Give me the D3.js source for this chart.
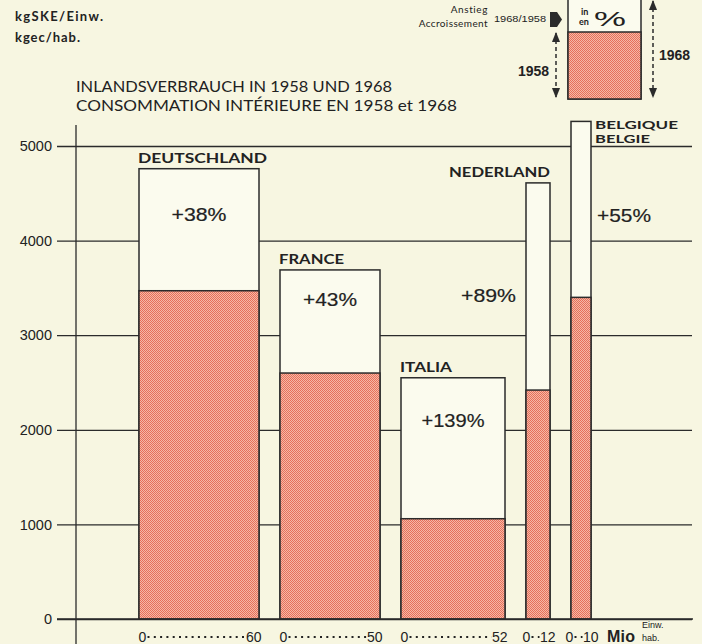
<!DOCTYPE html>
<html lang="de">
<head>
<meta charset="UTF-8" />
<title>Inlandsverbrauch 1958 / 1968</title>
<script src="https://d3js.org/d3.v7.min.js"></script>
<style>
  body { margin: 0; background: #f7f6e1; }
  svg { display: block; }
  .lbl { font-family: Lato, "DejaVu Sans", sans-serif; font-weight: bold; fill: #222; }
  .num { font-family: "Liberation Sans", Arial, sans-serif; fill: #222; }
</style>
</head>
<body>
<svg id="chart" width="702" height="644"></svg>
<script>
  // Mio Einwohner, kgSKE je Einwohner
  let countries = ["DEUTSCHLAND", "FRANCE", "ITALIA", "NEDERLAND", "BELGIQUE"];
  let population = [60, 50, 52, 12, 10];
  let cons1958 = [3470, 2600, 1060, 2420, 3400];
  let cons1968 = [4760, 3690, 2550, 4610, 5260];
  let growth = ["+38%", "+43%", "+139%", "+89%", "+55%"];
  let popLabels = ["60", "50", "52", "12", "10"];
  let yTicks = [0, 1000, 2000, 3000, 4000, 5000];

  let ink = "#2b2b2b";
  let gap = 10.5; // Mio between bars

  let svg = d3.select("#chart");
  let defs = svg.append("defs");
  let pat = defs.append("pattern")
    .attr("id", "dots").attr("width", 2).attr("height", 2)
    .attr("patternUnits", "userSpaceOnUse");
  pat.append("rect").attr("width", 2).attr("height", 2).attr("fill", "#f5b8a6");
  pat.append("rect").attr("width", 1).attr("height", 1).attr("fill", "#e6705a");
  pat.append("rect").attr("x", 1).attr("y", 1).attr("width", 1).attr("height", 1).attr("fill", "#e6705a");

  let y = d3.scaleLinear().domain([0, 5000]).range([619, 146]);
  let x = d3.scaleLinear().domain([0, 60]).range([139, 259]);

  // cumulative start of each bar in "Mio" units
  let starts = [];
  let acc = 0;
  population.forEach(function(p) { starts.push(acc); acc += p + gap; });

  let rows = countries.map(function(c, i) {
    return { name: c, pop: population[i], a: cons1958[i], b: cons1968[i],
             g: growth[i], lab: popLabels[i], x0: starts[i], x1: starts[i] + population[i] };
  });

  // grid + ticks
  let axis = svg.append("g")
    .attr("transform", "translate(57,0)")
    .call(d3.axisLeft(y).tickValues(yTicks).tickSize(-(692 - 57)).tickPadding(5)
      .tickFormat(d3.format("d")));
  axis.select(".domain").remove();
  axis.selectAll("line").attr("stroke", ink).attr("stroke-width", 1.3);
  axis.selectAll("text").attr("class", "num").attr("font-size", 14.5)
    .style("font-family", "'Liberation Sans', Arial, sans-serif").attr("fill", "#222");

  // vertical axis line
  svg.append("line").attr("x1", 76).attr("x2", 76).attr("y1", 125).attr("y2", 644)
    .attr("stroke", ink).attr("stroke-width", 1.3);

  // bars: 1968 total (light) and 1958 (red)
  let bar = svg.selectAll("g.bar").data(rows).enter().append("g").attr("class", "bar");
  bar.append("rect")
    .attr("x", d => x(d.x0)).attr("width", d => x(d.x1) - x(d.x0))
    .attr("y", d => y(d.b)).attr("height", d => y(0) - y(d.b))
    .attr("fill", "#fbfbee").attr("stroke", ink).attr("stroke-width", 1.5);
  bar.append("rect")
    .attr("x", d => x(d.x0)).attr("width", d => x(d.x1) - x(d.x0))
    .attr("y", d => y(d.a)).attr("height", d => y(0) - y(d.a))
    .attr("fill", "url(#dots)").attr("stroke", ink).attr("stroke-width", 1.5);

  // bottom axis line over bars
  svg.append("line").attr("x1", 57).attr("x2", 693).attr("y1", y(0)).attr("y2", y(0))
    .attr("stroke", ink).attr("stroke-width", 1.4);

  // country names
  let nameLen = { DEUTSCHLAND: 129, FRANCE: 65, ITALIA: 52, NEDERLAND: 101, BELGIQUE: 83 };
  bar.filter((d, i) => i < 3).append("text").attr("class", "lbl")
    .attr("x", d => x(d.x0) - 1).attr("y", d => y(d.b) - 6)
    .attr("font-size", 13).attr("textLength", d => nameLen[d.name]).attr("lengthAdjust", "spacingAndGlyphs")
    .text(d => d.name);
  bar.filter((d, i) => i === 3).append("text").attr("class", "lbl")
    .attr("x", d => x(d.x1) - 101).attr("y", d => y(d.b) - 6)
    .attr("font-size", 13).attr("textLength", 101).attr("lengthAdjust", "spacingAndGlyphs")
    .text(d => d.name);
  let be = bar.filter((d, i) => i === 4);
  be.append("text").attr("class", "lbl")
    .attr("x", d => x(d.x1) + 4).attr("y", d => y(d.b) + 8)
    .attr("font-size", 11).attr("textLength", 83).attr("lengthAdjust", "spacingAndGlyphs")
    .text("BELGIQUE");
  be.append("text").attr("class", "lbl")
    .attr("x", d => x(d.x1) + 4).attr("y", d => y(d.b) + 21.5)
    .attr("font-size", 11).attr("textLength", 55).attr("lengthAdjust", "spacingAndGlyphs")
    .text("BELGIE");

  // growth labels
  let gLen = [55, 54, 63, 55, 54];
  let gDy = [52, 36, 49, 0, 0];
  function growthText(sel) {
    return sel.attr("class", "num").attr("font-size", 19)
      .attr("stroke", "#222").attr("stroke-width", 0.2)
      .attr("lengthAdjust", "spacingAndGlyphs");
  }
  growthText(bar.filter((d, i) => i < 3).append("text"))
    .attr("x", (d, i) => (x(d.x0) + x(d.x1)) / 2 - gLen[i] / 2)
    .attr("y", (d, i) => y(d.b) + gDy[i])
    .attr("textLength", (d, i) => gLen[i])
    .text(d => d.g);
  growthText(bar.filter((d, i) => i === 3).append("text"))
    .attr("x", d => x(d.x0) - 65).attr("y", d => y(d.b) + 119)
    .attr("textLength", 55)
    .text(d => d.g);
  growthText(bar.filter((d, i) => i === 4).append("text"))
    .attr("x", d => x(d.x1) + 6).attr("y", d => y(d.b) + 101)
    .attr("textLength", 54)
    .text(d => d.g);

  // population scale under each bar: 0 ..... n
  let pl = svg.selectAll("g.pop").data(rows).enter().append("g").attr("class", "pop");
  function span(d) {
    let a = x(d.x0), b = x(d.x1);
    let half = Math.max((b - a) / 2 + 1.5, 16.5);
    let mid = (a + b) / 2 + 1;
    return [mid - half, mid + half];
  }
  pl.append("text").attr("class", "num").attr("font-size", 14)
    .attr("x", d => span(d)[0]).attr("y", 642).text("0");
  pl.append("text").attr("class", "num").attr("font-size", 14).attr("text-anchor", "end")
    .attr("x", d => span(d)[1]).attr("y", 642).text(d => d.lab);
  pl.append("line")
    .attr("x1", d => span(d)[0] + 9).attr("x2", d => span(d)[1] - 16)
    .attr("y1", 637).attr("y2", 637)
    .attr("stroke", "#222").attr("stroke-width", 2).attr("stroke-dasharray", "2,4.3");
  svg.append("text").attr("class", "num").attr("font-size", 16).attr("font-weight", "bold")
    .attr("x", 607).attr("y", 642).attr("textLength", 28).text("Mio");
  svg.append("text").attr("class", "num").attr("font-size", 9).attr("x", 642).attr("y", 628).text("Einw.");
  svg.append("text").attr("class", "num").attr("font-size", 9).attr("x", 642).attr("y", 641).text("hab.");

  // unit + titles
  svg.append("text").attr("class", "lbl").attr("font-size", 13).attr("x", 15).attr("y", 21)
    .attr("textLength", 88).text("kgSKE/Einw.");
  svg.append("text").attr("class", "lbl").attr("font-size", 13).attr("x", 15).attr("y", 42)
    .attr("textLength", 65).text("kgec/hab.");
  svg.append("text").attr("class", "lbl").style("font-weight", "normal").attr("font-size", 14.5)
    .attr("x", 76).attr("y", 92).attr("textLength", 316).attr("lengthAdjust", "spacingAndGlyphs")
    .text("INLANDSVERBRAUCH IN 1958 UND 1968");
  svg.append("text").attr("class", "lbl").style("font-weight", "normal").attr("font-size", 14.5)
    .attr("x", 76).attr("y", 111).attr("textLength", 381).attr("lengthAdjust", "spacingAndGlyphs")
    .text("CONSOMMATION INTÉRIEURE EN 1958 et 1968");

  // legend (key bar)
  let lg = svg.append("g");
  lg.append("rect").attr("x", 568).attr("y", -5).attr("width", 73).attr("height", 104)
    .attr("fill", "#fbfbee").attr("stroke", ink).attr("stroke-width", 1.5);
  lg.append("rect").attr("x", 568).attr("y", 32).attr("width", 73).attr("height", 67)
    .attr("fill", "url(#dots)").attr("stroke", ink).attr("stroke-width", 1.5);
  lg.append("text").attr("class", "lbl").attr("font-size", 9).attr("x", 581).attr("y", 15).text("in");
  lg.append("text").attr("class", "lbl").attr("font-size", 9).attr("x", 579).attr("y", 25).text("en");
  lg.append("text").attr("class", "num").attr("font-size", 21).attr("x", 594).attr("y", 26)
    .attr("textLength", 32).attr("lengthAdjust", "spacingAndGlyphs").text("%");

  defs.append("marker").attr("id", "ah").attr("viewBox", "0 0 10 10").attr("refX", 9).attr("refY", 5)
    .attr("markerWidth", 7).attr("markerHeight", 7).attr("orient", "auto-start-reverse")
    .append("path").attr("d", "M0,1 L10,5 L0,9 z").attr("fill", ink);
  lg.append("line").attr("x1", 556).attr("x2", 556).attr("y1", 33).attr("y2", 97)
    .attr("stroke", ink).attr("stroke-width", 1.5).attr("stroke-dasharray", "4,3")
    .attr("marker-start", "url(#ah)").attr("marker-end", "url(#ah)");
  lg.append("line").attr("x1", 653).attr("x2", 653).attr("y1", 1).attr("y2", 97)
    .attr("stroke", ink).attr("stroke-width", 1.5).attr("stroke-dasharray", "4,3")
    .attr("marker-start", "url(#ah)").attr("marker-end", "url(#ah)");
  lg.append("text").attr("class", "num").attr("font-weight", "bold").attr("font-size", 14)
    .attr("x", 518).attr("y", 76).text("1958");
  lg.append("text").attr("class", "num").attr("font-weight", "bold").attr("font-size", 14)
    .attr("x", 659).attr("y", 60).text("1968");
  lg.append("text").attr("class", "lbl").style("font-weight", "normal").attr("font-size", 10)
    .attr("x", 488).attr("y", 13).attr("text-anchor", "end").attr("letter-spacing", 0.6).text("Anstieg");
  lg.append("text").attr("class", "lbl").style("font-weight", "normal").attr("font-size", 10)
    .attr("x", 488).attr("y", 27).attr("text-anchor", "end").attr("letter-spacing", 0.4).text("Accroissement");
  lg.append("text").attr("class", "num").attr("font-size", 9).attr("x", 494).attr("y", 22)
    .attr("textLength", 52).attr("lengthAdjust", "spacingAndGlyphs").text("1968/1958");
  lg.append("polygon").attr("points", "550,12 557,12 562,19.5 557,27 550,27").attr("fill", ink);
</script>
</body>
</html>
